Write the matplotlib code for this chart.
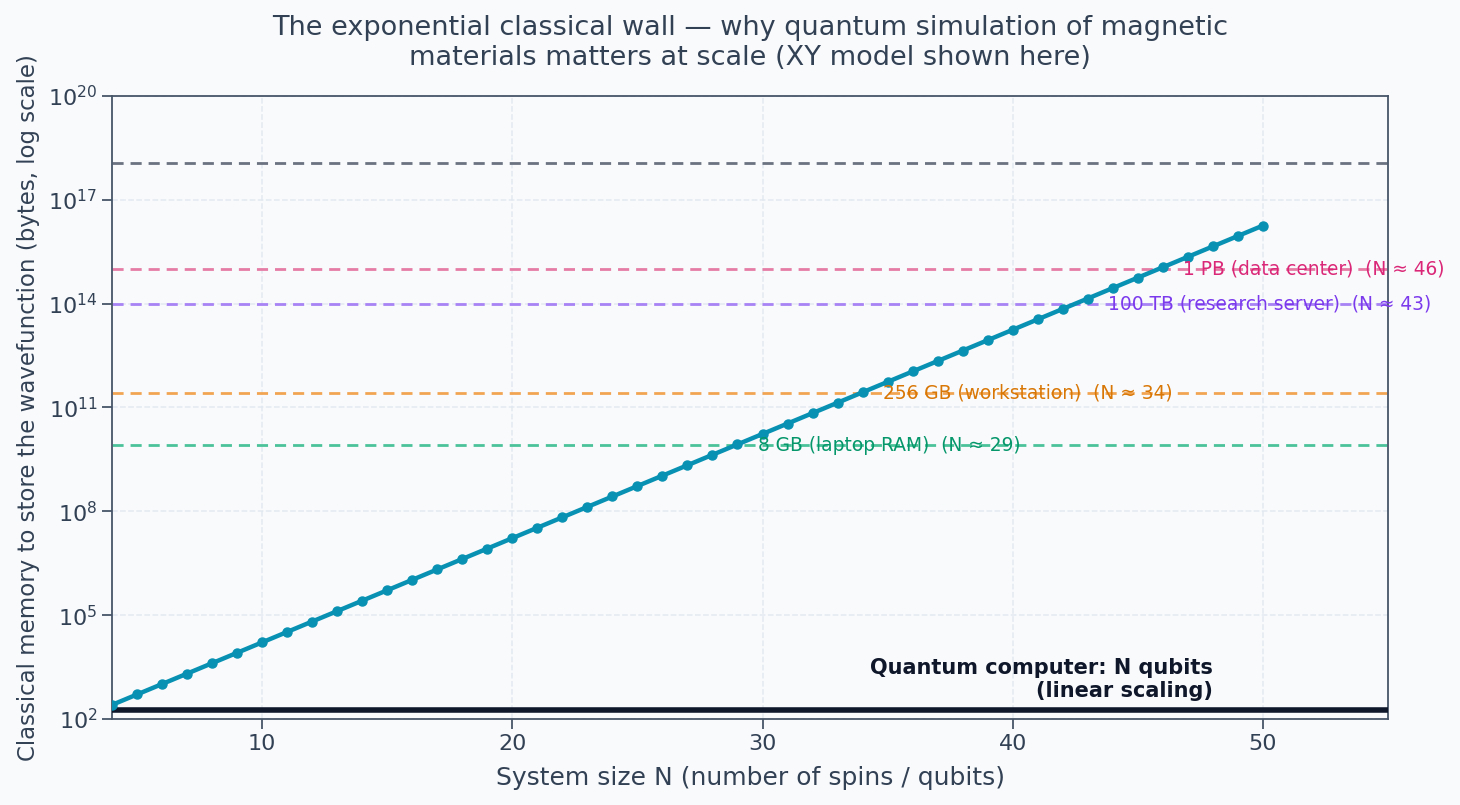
import matplotlib
matplotlib.use("Agg")
import matplotlib.pyplot as plt

# system size and bytes needed (complex128 amplitudes, 16 * 2^N)
n_spins = list(range(4, 51))
mem_bytes = [256, 512, 1024, 2048, 4096, 8192, 16384, 32768, 65536, 131072,
             262144, 524288, 1048576, 2097152, 4194304, 8388608, 16777216,
             33554432, 67108864, 134217728, 268435456, 536870912, 1073741824,
             2147483648, 4294967296, 8589934592, 17179869184, 34359738368,
             68719476736, 137438953472, 274877906944, 549755813888,
             1099511627776, 2199023255552, 4398046511104, 8796093022208,
             17592186044416, 35184372088832, 70368744177664, 140737488355328,
             281474976710656, 562949953421312, 1125899906842624,
             2251799813685248, 4503599627370496, 9007199254740992,
             18014398509481984]

# hardware limits
lim_names = ["8 GB (laptop RAM)", "256 GB (workstation)", "100 TB (research server)", "1 PB (data center)"]
lim_bytes = [8e9, 2.56e11, 1e14, 1e15]
lim_n = [29, 34, 43, 46]
lim_line_col = ["#4cc29a", "#f1a552", "#a883f5", "#e57ca5"]
lim_text_col = ["#059669", "#d97706", "#7c3aed", "#db2777"]

exa_bytes = 1.15e18
quantum_level = 180

bg = "#f8fafc"
txt = "#334155"

fig = plt.figure(figsize=(14.6, 8.05), dpi=100, facecolor=bg)
ax = fig.add_axes([0.0767, 0.1068, 0.874, 0.774])
ax.set_facecolor(bg)

for v, c in zip(lim_bytes, lim_line_col):
    ax.axhline(v, color=c, lw=2, ls="--", dashes=(4, 2.5), zorder=2)
ax.axhline(exa_bytes, color="#6b7280", lw=2, ls="--", dashes=(4, 2.5), zorder=2)

ax.plot(n_spins, mem_bytes, color="#0891b2", lw=3.2, marker="o", ms=6.5, zorder=4)

for name, v, n, c in zip(lim_names, lim_bytes, lim_n, lim_text_col):
    ax.text(n + 0.8, v, f"{name}  (N ≈ {n})", color=c, fontsize=13.4,
            va="center", ha="left", zorder=5)

ax.axhline(quantum_level, color="#0f172a", lw=4, zorder=3)
ax.text(48, 330, "Quantum computer: N qubits\n(linear scaling)", ha="right",
        va="bottom", fontsize=15, fontweight="bold", color="#0f172a",
        linespacing=1.2)

ax.set_yscale("log")
ax.set_xlim(4, 55)
ax.set_ylim(1e2, 1e20)
ax.set_yticks([10.0**k for k in range(2, 21, 3)])
ax.yaxis.set_minor_locator(matplotlib.ticker.NullLocator())
ax.set_xticks([10, 20, 30, 40, 50])

ax.grid(True, ls="--", color="#e2e8f0", lw=1.1, alpha=0.9)
ax.set_axisbelow(True)
for s in ax.spines.values():
    s.set_color("#475569")
    s.set_linewidth(1.3)
ax.tick_params(colors="#475569", labelsize=16, length=7, width=1.3)
for lab in ax.get_xticklabels() + ax.get_yticklabels():
    lab.set_color(txt)

ax.set_xlabel("System size N (number of spins / qubits)", fontsize=18, color=txt, labelpad=9)
ax.set_ylabel("Classical memory to store the wavefunction (bytes, log scale)", fontsize=16.5,
              color=txt, labelpad=6)
ax.set_title("The exponential classical wall — why quantum simulation of magnetic\n"
             "materials matters at scale (XY model shown here)", fontsize=19.5, color=txt, pad=22)

fig.savefig("out.png", dpi=100, facecolor=bg)
